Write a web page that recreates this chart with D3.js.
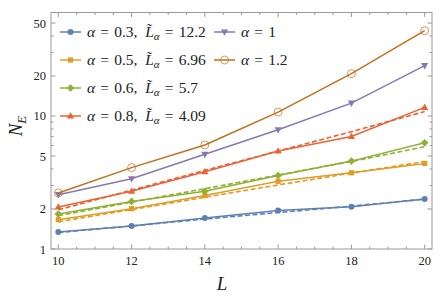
<!DOCTYPE html>
<html lang="en">
  <head>
    <meta charset="utf-8">
    <title>N_E vs L</title>
    <script src="https://d3js.org/d3.v7.min.js"></script>
    <style>
      body { margin: 0; background: #fff; }
      text { font-family: "Liberation Serif", "DejaVu Serif", serif; fill: #222; }
      .tick { font-size: 12.5px; }
      .leg { font-size: 15.5px; }
    </style>
  </head>
  <body>
    <svg id="chart"></svg>
    <script>

    // DATA
    const Ls = [10, 12, 14, 16, 18, 20];
    const alphas = ['0.3', '0.5', '0.6', '0.8', '1', '1.2'];
    const Ltilde = ['12.2', '6.96', '5.7', '4.09', null, null];

    const ne_03 = [1.34, 1.49, 1.71, 1.95, 2.08, 2.38];
    const ne_05 = [1.66, 2.01, 2.52, 3.23, 3.74, 4.40];
    const ne_06 = [1.83, 2.28, 2.72, 3.57, 4.58, 6.30];
    const ne_08 = [2.07, 2.72, 3.81, 5.46, 7.02, 11.6];
    const ne_1 = [2.56, 3.37, 5.15, 7.88, 12.5, 23.9];
    const ne_12 = [2.64, 4.09, 6.06, 10.7, 20.8, 43.8];

    // fits (dashed)
    const fit_03 = [1.33, 1.49, 1.68, 1.88, 2.10, 2.37];
    const fit_05 = [1.60, 1.98, 2.45, 3.03, 3.72, 4.55];
    const fit_06 = [1.78, 2.25, 2.84, 3.60, 4.55, 5.88];
    const fit_08 = [1.97, 2.77, 3.90, 5.45, 7.62, 10.8];

    const yMajor = [1, 2, 5, 10, 20, 50];
    const xMajor = [10, 12, 14, 16, 18, 20];

    const colors = ['#5e81b5', '#e19c24', '#8fb032', '#eb6235', '#8778b3', '#c56e1a'];
    const shapes = ['circle', 'square', 'diamond', 'up', 'down', 'ring'];

    const series = [ne_03, ne_05, ne_06, ne_08, ne_1, ne_12];
    const fits = [fit_03, fit_05, fit_06, fit_08, null, null];

    // DIMENSIONS
    const width = 441, height = 299;
    const plot = { left: 51, right: 432, top: 12.5, bottom: 249 };

    const svg = d3.select('#chart').attr('width', width).attr('height', height);

    const x = d3.scaleLinear().domain([9.8, 20.2]).range([plot.left, plot.right]);
    const y = d3.scaleLog().domain([1, 60]).range([plot.bottom, plot.top]);

    // FRAME + TICKS
    const frame = svg.append('g');
    frame.append('rect')
      .attr('x', plot.left).attr('y', plot.top)
      .attr('width', plot.right - plot.left).attr('height', plot.bottom - plot.top)
      .attr('fill', 'none').attr('stroke', '#9a9a9a').attr('stroke-width', 1);

    const xMinor = d3.range(10, 20.01, 0.5).filter(v => !xMajor.includes(v));
    const yMinor = [];
    [1, 10].forEach(dec => d3.range(1, 10).forEach(k => {
      const v = k * dec;
      if (!yMajor.includes(v) && v < 60) yMinor.push(v);
    }));

    function xTicks(vals, len) {
      frame.append('g').selectAll('line').data(vals).join('line')
        .attr('x1', d => x(d)).attr('x2', d => x(d))
        .attr('y1', plot.bottom).attr('y2', plot.bottom - len)
        .attr('stroke', '#9a9a9a');
      frame.append('g').selectAll('line').data(vals).join('line')
        .attr('x1', d => x(d)).attr('x2', d => x(d))
        .attr('y1', plot.top).attr('y2', plot.top + len)
        .attr('stroke', '#9a9a9a');
    }
    function yTicks(vals, len) {
      frame.append('g').selectAll('line').data(vals).join('line')
        .attr('y1', d => y(d)).attr('y2', d => y(d))
        .attr('x1', plot.left).attr('x2', plot.left + len)
        .attr('stroke', '#9a9a9a');
      frame.append('g').selectAll('line').data(vals).join('line')
        .attr('y1', d => y(d)).attr('y2', d => y(d))
        .attr('x1', plot.right).attr('x2', plot.right - len)
        .attr('stroke', '#9a9a9a');
    }
    xTicks(xMajor, 4.5); xTicks(xMinor, 2.5);
    yTicks(yMajor, 4.5); yTicks(yMinor, 2.5);

    frame.append('g').selectAll('text').data(xMajor).join('text')
      .attr('class', 'tick')
      .attr('x', d => x(d)).attr('y', plot.bottom + 16)
      .attr('text-anchor', 'middle')
      .text(d => d);

    frame.append('g').selectAll('text').data(yMajor).join('text')
      .attr('class', 'tick')
      .attr('x', plot.left - 5).attr('y', d => y(d) + 4.5)
      .attr('text-anchor', 'end')
      .text(d => d);

    // axis labels
    svg.append('text')
      .attr('x', 222).attr('y', 290)
      .attr('text-anchor', 'middle')
      .style('font-size', '19px').style('font-style', 'italic')
      .text('L');

    const yl = svg.append('text')
      .attr('transform', 'translate(22,126) rotate(-90)')
      .attr('text-anchor', 'middle')
      .style('font-size', '19px').style('font-style', 'italic');
    yl.append('tspan').text('N');
    yl.append('tspan').attr('baseline-shift', '-30%').style('font-size', '13px').text('E');

    // MARKERS
    function marker(g, shape, color, cx, cy) {
      const s = 3;
      if (shape === 'circle') {
        g.append('circle').attr('cx', cx).attr('cy', cy).attr('r', s).attr('fill', color);
      } else if (shape === 'ring') {
        g.append('circle').attr('cx', cx).attr('cy', cy).attr('r', 4)
          .attr('fill', 'none').attr('stroke', color).attr('stroke-width', 0.9).attr('opacity', 0.8);
      } else if (shape === 'square') {
        g.append('rect').attr('x', cx - 2.6).attr('y', cy - 2.6).attr('width', 5.2).attr('height', 5.2).attr('fill', color);
      } else if (shape === 'diamond') {
        g.append('path').attr('d', `M${cx},${cy - 3.8}L${cx + 3.8},${cy}L${cx},${cy + 3.8}L${cx - 3.8},${cy}Z`).attr('fill', color);
      } else if (shape === 'up') {
        g.append('path').attr('d', `M${cx},${cy - 3.8}L${cx + 3.6},${cy + 2.6}L${cx - 3.6},${cy + 2.6}Z`).attr('fill', color);
      } else if (shape === 'down') {
        g.append('path').attr('d', `M${cx},${cy + 3.8}L${cx + 3.6},${cy - 2.6}L${cx - 3.6},${cy - 2.6}Z`).attr('fill', color);
      }
    }

    // LINES
    const line = d3.line().x((d, i) => x(Ls[i])).y(d => y(d));
    const plotG = svg.append('g');

    fits.forEach((f, k) => {
      if (!f) return;
      plotG.append('path')
        .attr('d', line(f))
        .attr('fill', 'none').attr('stroke', colors[k])
        .attr('stroke-width', 1.6).attr('stroke-dasharray', '5,2.5');
    });

    series.forEach((s, k) => {
      plotG.append('path')
        .attr('d', line(s))
        .attr('fill', 'none').attr('stroke', colors[k]).attr('stroke-width', 1.5);
      s.forEach((v, i) => marker(plotG, shapes[k], colors[k], x(Ls[i]), y(v)));
    });

    // LEGEND
    const legPos = [
      [60, 32], [60, 60], [60, 88], [60, 116],
      [214, 32], [214, 60]
    ];
    const leg = svg.append('g');
    alphas.forEach((a, k) => {
      const [lx, ly] = legPos[k];
      leg.append('line')
        .attr('x1', lx).attr('x2', lx + 21).attr('y1', ly).attr('y2', ly)
        .attr('stroke', colors[k]).attr('stroke-width', 1.5);
      marker(leg, shapes[k], colors[k], lx + 10.5, ly);
      const t = leg.append('text').attr('class', 'leg')
        .attr('x', lx + 27).attr('y', ly + 5);
      t.append('tspan').style('font-style', 'italic').text('α');
      t.append('tspan').text('\u2004=\u2004' + a + (Ltilde[k] ? ',\u2002' : ''));
      if (Ltilde[k]) {
        t.append('tspan').style('font-style', 'italic').text('L\u0303');
        t.append('tspan').attr('baseline-shift', '-30%').style('font-size', '11px').style('font-style', 'italic').text('α');
        t.append('tspan').attr('baseline-shift', '0%').text('\u2004=\u2004' + Ltilde[k]);
      }
    });

    </script>
  </body>
</html>
